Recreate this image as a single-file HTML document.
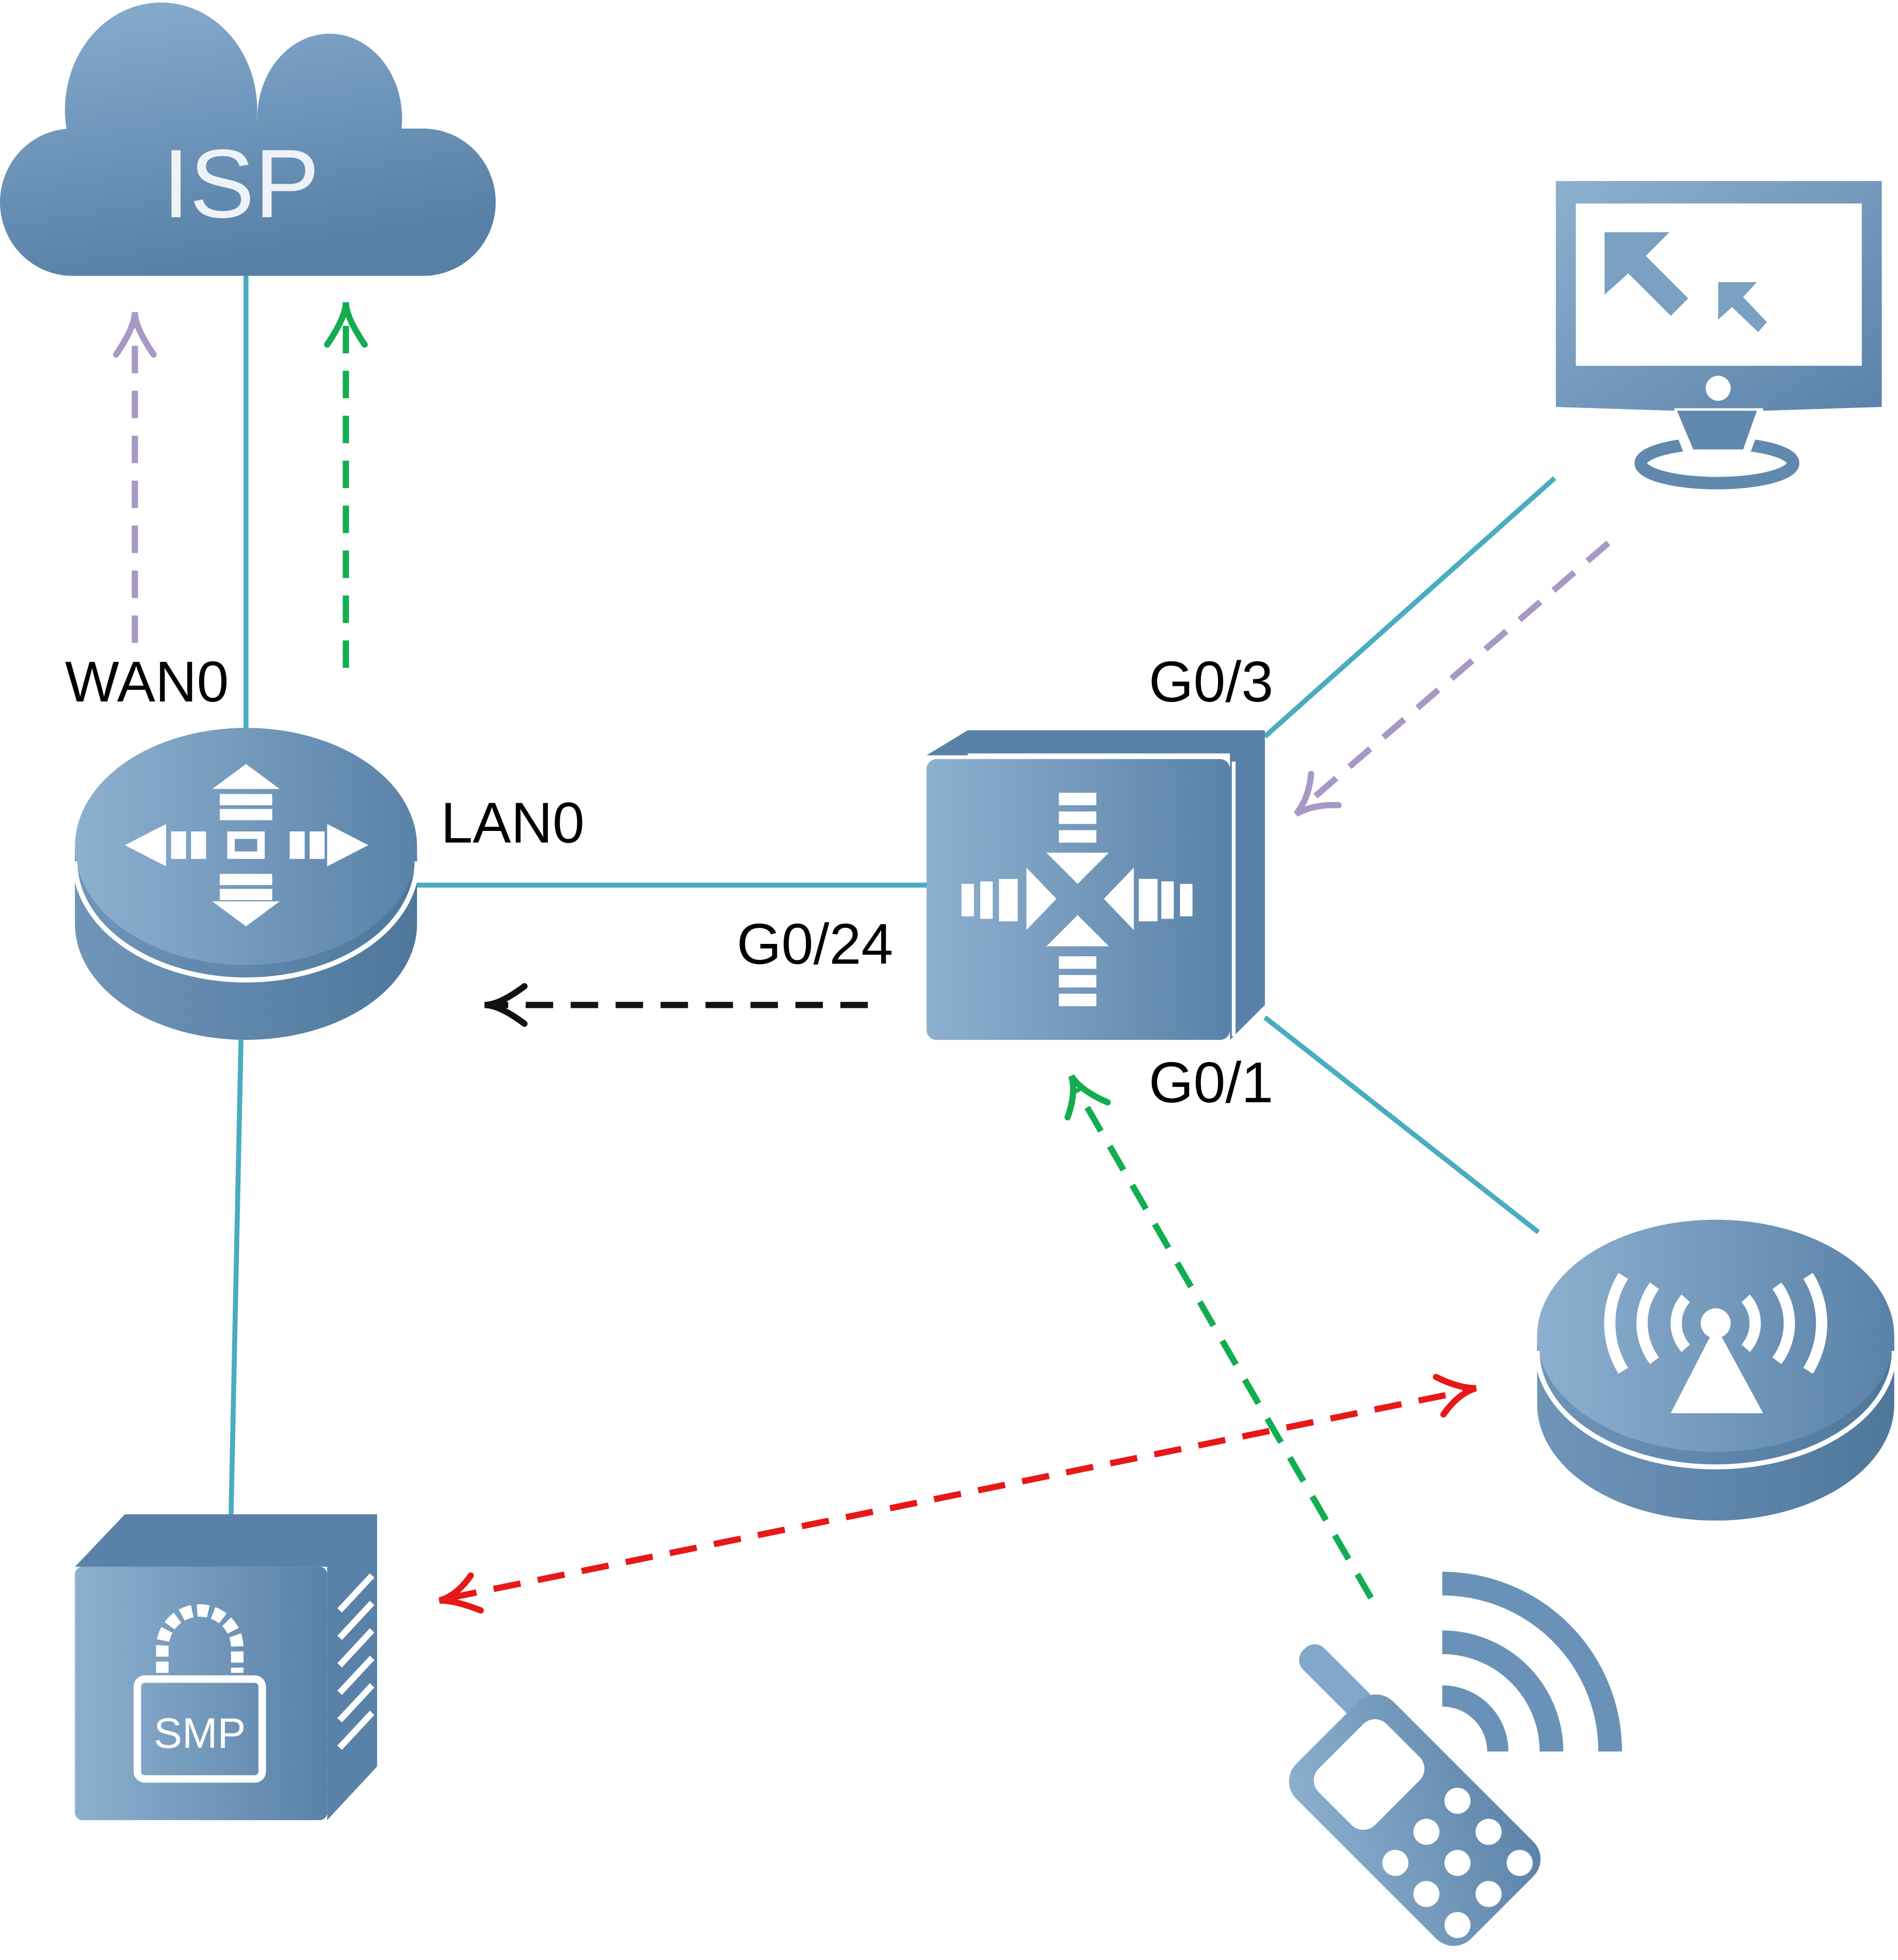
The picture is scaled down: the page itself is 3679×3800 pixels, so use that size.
<!DOCTYPE html>
<html><head><meta charset="utf-8"><style>
html,body{margin:0;padding:0;background:#fff;}
svg{display:block;}
text{font-family:"Liberation Sans",Arial,sans-serif;}
</style></head><body>
<svg width="3679" height="3800" viewBox="0 0 1520 1570" preserveAspectRatio="none" xmlns="http://www.w3.org/2000/svg">
<defs>
<linearGradient id="g" x1="0" y1="0" x2="1" y2="0"><stop offset="0" stop-color="#8db0cf"/><stop offset="1" stop-color="#5a82a8"/></linearGradient>
<linearGradient id="gv" x1="0" y1="0" x2="0.3" y2="1"><stop offset="0" stop-color="#88adcf"/><stop offset="1" stop-color="#5780a7"/></linearGradient>
<linearGradient id="gd" x1="0" y1="0" x2="1" y2="0"><stop offset="0" stop-color="#6f95b9"/><stop offset="1" stop-color="#4f779c"/></linearGradient>
<linearGradient id="gp" x1="0" y1="0" x2="1" y2="1"><stop offset="0" stop-color="#8db0cf"/><stop offset="1" stop-color="#5a82a8"/></linearGradient>
<clipPath id="cloud">
<ellipse cx="129" cy="88" rx="77" ry="86"/>
<ellipse cx="264" cy="95" rx="58" ry="68"/>
<rect x="0" y="103" width="397" height="118" rx="58" ry="59"/>
<rect x="60" y="95" width="260" height="126"/>
</clipPath>
</defs>

<!-- connectors -->
<g stroke="#4aacc0" stroke-width="4" fill="none">
<line x1="197" y1="220" x2="197" y2="586"/>
<line x1="333" y1="709" x2="744" y2="709"/>
<line x1="1013" y1="590" x2="1245" y2="383"/>
<line x1="1013" y1="815" x2="1232" y2="987"/>
<line x1="193" y1="833" x2="185" y2="1215"/>
</g>

<!-- dashed arrows -->
<g fill="none" stroke-width="5" stroke-dasharray="22,14">
<line x1="108" y1="515" x2="108" y2="262" stroke="#a798c6"/>
<line x1="277" y1="535" x2="277" y2="252" stroke="#12ad4f"/>
<line x1="695" y1="805" x2="400" y2="805" stroke="#111"/>
<line x1="1288" y1="435" x2="1045" y2="645" stroke="#a798c6"/>
<line x1="1098" y1="1280" x2="862" y2="872" stroke="#12ad4f"/>
<line x1="360" y1="1280" x2="1175" y2="1114" stroke="#e81818"/>
</g>
<g fill="none" stroke-width="5" stroke-linecap="round">
<path d="M93 284 Q108 262 108 250 Q108 262 123 284" stroke="#a798c6"/>
<path d="M262 276 Q277 254 277 242 Q277 254 292 276" stroke="#12ad4f"/>
<path d="M420 790 Q400 805 388 805 Q400 805 420 820" stroke="#111"/>
<path d="M1050 620 Q1048 640 1038 652 Q1052 644 1072 645" stroke="#a798c6"/>
<path d="M855 895 Q862 875 858 862 Q866 874 887 883" stroke="#12ad4f"/>
<path d="M1150 1103 Q1168 1112 1182 1112 Q1168 1116 1156 1133" stroke="#e81818"/>
<path d="M385 1290 Q365 1282 352 1282 Q366 1278 377 1262" stroke="#e81818"/>
</g>

<!-- ISP cloud -->
<rect x="0" y="0" width="400" height="225" fill="url(#gv)" clip-path="url(#cloud)"/>
<text x="193" y="174" text-anchor="middle" font-size="78" fill="#eef3f8">ISP</text>

<!-- router -->
<path d="M60 678 L60 740 A137 93 0 0 0 334 740 L334 678 Z" fill="url(#gd)"/>
<ellipse cx="197" cy="678" rx="137" ry="95" fill="url(#g)"/>
<path d="M60 690 A137 95 0 0 0 334 690" fill="none" stroke="#fff" stroke-width="4"/>
<g fill="#fff">
<polygon points="100,677 133,660 133,694"/><polygon points="295,677 262,660 262,694"/>
<polygon points="197,612 170,632 224,632"/><polygon points="197,742 170,722 224,722"/>
<rect x="137" y="666" width="12" height="22"/><rect x="153" y="666" width="12" height="22"/><rect x="248" y="666" width="12" height="22"/><rect x="232" y="666" width="12" height="22"/>
<rect x="176" y="636" width="42" height="9"/><rect x="176" y="648" width="42" height="9"/><rect x="176" y="700" width="42" height="9"/><rect x="176" y="712" width="42" height="9"/>
<rect x="182" y="666" width="30" height="22"/>
</g>
<rect x="188" y="672" width="18" height="10" fill="#6f95b9"/>

<!-- switch -->
<polygon points="742,605 775,585 1013,585 1013,805 985,833 985,605" fill="#5a82a8"/>
<rect x="742" y="608" width="243" height="225" rx="8" fill="url(#g)"/>
<line x1="775" y1="605" x2="985" y2="605" stroke="#fff" stroke-width="3"/>
<line x1="988" y1="610" x2="988" y2="830" stroke="#fff" stroke-width="3"/>
<g fill="#fff">
<polygon points="838,683 888,683 863,708"/><polygon points="838,758 888,758 863,733"/>
<polygon points="822,695 822,745 846,720"/><polygon points="908,695 908,745 884,720"/>
<rect x="848" y="635" width="30" height="10"/><rect x="848" y="650" width="30" height="10"/><rect x="848" y="665" width="30" height="10"/>
<rect x="848" y="766" width="30" height="10"/><rect x="848" y="781" width="30" height="10"/><rect x="848" y="796" width="30" height="10"/>
<rect x="770" y="708" width="10" height="26"/><rect x="785" y="706" width="10" height="30"/><rect x="800" y="704" width="15" height="34"/>
<rect x="945" y="708" width="10" height="26"/><rect x="930" y="706" width="10" height="30"/><rect x="912" y="704" width="15" height="34"/>
</g>

<!-- monitor -->
<path d="M1246 145 L1507 145 L1507 326 L1412 329 L1412 327 L1341 327 L1341 329 L1246 326 Z" fill="url(#gp)"/>
<rect x="1262" y="163" width="229" height="130" fill="#fff"/>
<polygon points="1285,186 1337,186 1318,205 1352,239 1338,253 1304,219 1285,236" fill="#7aa0c2"/>
<polygon points="1376,226 1407,226 1396,238 1415,258 1408,266 1387,246 1376,256" fill="#7aa0c2"/>
<circle cx="1376" cy="311" r="10" fill="#fff"/>
<ellipse cx="1375" cy="371" rx="61" ry="16" fill="none" stroke="#6189ae" stroke-width="10"/>
<polygon points="1336,330 1414,330 1402,362 1348,362" fill="#fff"/>
<polygon points="1343,329 1407,329 1396,360 1356,360" fill="#6189ae"/>

<!-- AP -->
<path d="M1231 1070 L1231 1125 A143 93 0 0 0 1517 1125 L1517 1070 Z" fill="url(#gd)"/>
<ellipse cx="1374" cy="1070" rx="143" ry="93" fill="url(#g)"/>
<path d="M1231 1082 A143 93 0 0 0 1517 1082" fill="none" stroke="#fff" stroke-width="4"/>
<polygon points="1374,1062 1338,1132 1412,1132" fill="#fff"/>
<circle cx="1374" cy="1060" r="12" fill="#fff"/>
<g fill="none" stroke="#fff" stroke-width="9">
<path d="M1350 1040 A30 30 0 0 0 1350 1080"/><path d="M1398 1040 A30 30 0 0 1 1398 1080"/>
<path d="M1325 1030 A50 50 0 0 0 1325 1090"/><path d="M1423 1030 A50 50 0 0 1 1423 1090"/>
<path d="M1300 1022 A72 72 0 0 0 1300 1098"/><path d="M1448 1022 A72 72 0 0 1 1448 1098"/>
</g>

<!-- SMP server -->
<polygon points="60,1255 100,1213 302,1213 302,1415 262,1458 262,1255" fill="#5a82a8"/>
<rect x="60" y="1255" width="202" height="203" rx="6" fill="url(#g)"/>
<g stroke="#fff" stroke-width="5">
<line x1="272" y1="1290" x2="298" y2="1262"/><line x1="272" y1="1312" x2="298" y2="1284"/><line x1="272" y1="1334" x2="298" y2="1306"/><line x1="272" y1="1356" x2="298" y2="1328"/><line x1="272" y1="1378" x2="298" y2="1350"/><line x1="272" y1="1400" x2="298" y2="1372"/>
</g>
<path d="M130 1340 L130 1320 A30 30 0 0 1 190 1320 L190 1340" fill="none" stroke="#fff" stroke-width="10" stroke-dasharray="9,4"/>
<rect x="110" y="1345" width="100" height="80" rx="6" fill="none" stroke="#fff" stroke-width="6"/>
<text x="160" y="1400" text-anchor="middle" font-size="34" fill="#fff">SMP</text>

<!-- phone -->
<g fill="none" stroke="#6a92b8">
<path d="M1155 1358.5 A44.5 44.5 0 0 1 1199.5 1403" stroke-width="17"/>
<path d="M1155 1315.5 A87.5 87.5 0 0 1 1242.5 1403" stroke-width="19"/>
<path d="M1155 1268.5 A134.5 134.5 0 0 1 1289.5 1403" stroke-width="19"/>
</g>
<g transform="translate(1133,1458) rotate(-45) scale(1.1)">
<rect x="20" y="-145" width="22" height="65" rx="10" fill="#82a8ca"/>
<rect x="-50" y="-90" width="100" height="180" rx="18" fill="url(#gp)"/>
<rect x="-35" y="-76" width="70" height="58" rx="12" fill="#fff"/>
<g fill="#fff">
<circle cx="-32" cy="12" r="9.5"/><circle cx="0" cy="12" r="9.5"/><circle cx="32" cy="12" r="9.5"/>
<circle cx="-32" cy="44" r="9.5"/><circle cx="0" cy="44" r="9.5"/><circle cx="32" cy="44" r="9.5"/>
<circle cx="-32" cy="76" r="9.5"/><circle cx="0" cy="76" r="9.5"/><circle cx="32" cy="76" r="9.5"/>
</g>
</g>

<!-- labels -->
<g font-size="46" fill="#000">
<text x="52" y="562">WAN0</text>
<text x="353" y="675">LAN0</text>
<text x="590" y="772">G0/24</text>
<text x="920" y="562">G0/3</text>
<text x="920" y="883">G0/1</text>
</g>
</svg>
</body></html>
